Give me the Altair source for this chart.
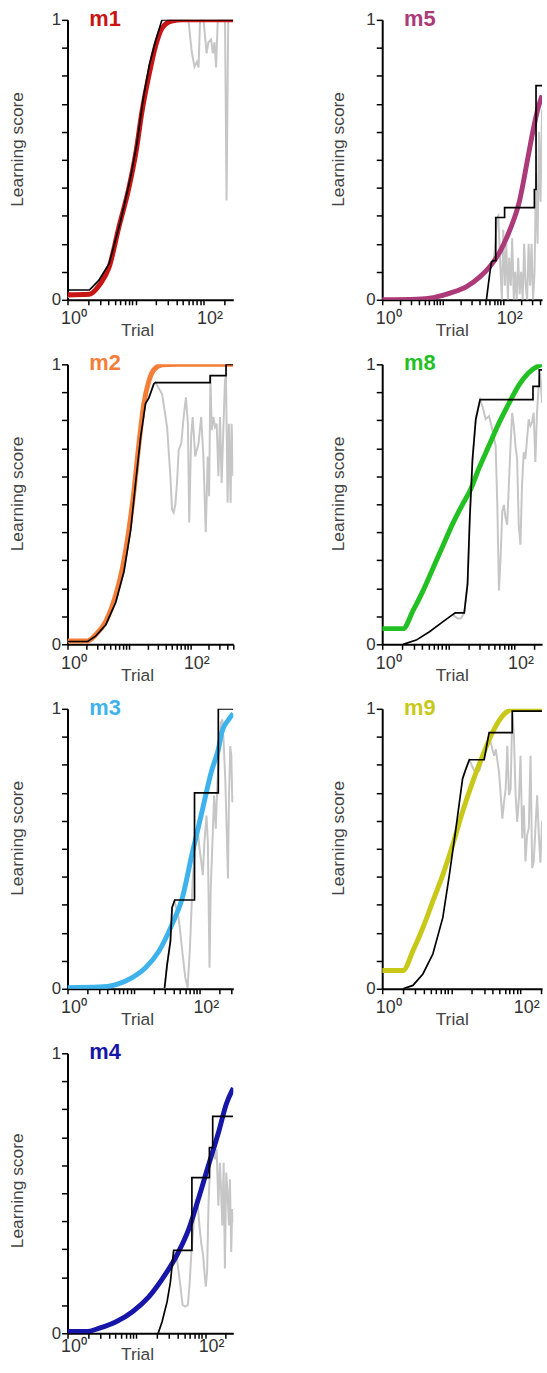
import altair as alt
import pandas as pd

FONT = "Liberation Sans"

# ---------------- data (trial, learning score) ----------------
# m1
m1_fit_t = [1, 2.1, 3.0, 4.1, 5.7, 8.0, 10.2, 12.4, 15.7, 19.9, 24.5, 34, 50, 274]
m1_fit_s = [0.018, 0.02, 0.055, 0.117, 0.26, 0.40, 0.53, 0.67, 0.80, 0.91, 0.97, 0.996, 1.0, 1.0]
m1_blk_t = [1, 2.1, 2.9, 4.1, 6.0, 8.5, 10.5, 13, 16, 20, 24.5, 274]
m1_blk_s = [0.035, 0.035, 0.07, 0.13, 0.28, 0.44, 0.56, 0.72, 0.84, 0.93, 1.0, 1.0]
m1_raw_t = [1, 2.1, 4.1, 8, 12, 16, 20, 25, 30, 60, 67, 73.6, 80, 84.5, 89, 100, 111, 118, 129, 137,
            145, 153, 162, 207, 218, 231, 274]
m1_raw_s = [0.01, 0.02, 0.11, 0.40, 0.66, 0.82, 0.92, 0.98, 1.0, 1.0, 0.887, 0.833, 0.85, 0.83, 1.0,
            1.0, 0.88, 0.92, 0.93, 0.88, 0.92, 0.83, 1.0, 1.0, 0.355, 1.0, 1.0]

# m2
m2_fit_t = [1, 2.13, 2.9, 4.2, 6.1, 7.8, 10.0, 12.1, 14.6, 17.5, 21.1, 25.4, 34.7, 60, 500]
m2_fit_s = [0.012, 0.012, 0.035, 0.082, 0.176, 0.27, 0.41, 0.55, 0.72, 0.86, 0.94, 0.98, 0.998, 1.0, 1.0]
m2_blk_t = [1, 2.13, 2.9, 4.2, 6.1, 8.3, 10.7, 12.9, 15.5, 18.6, 21.1, 25.4, 27, 210, 210, 381, 381, 500]
m2_blk_s = [0.01, 0.01, 0.03, 0.07, 0.15, 0.26, 0.41, 0.58, 0.74, 0.86, 0.88, 0.93, 0.935, 0.935,
            0.96, 0.96, 1.0, 1.0]
m2_raw_t = [1, 2.13, 2.9, 4.2, 6.1, 8.3, 10.7, 12.9, 15.5, 18.6, 21.1, 25.4, 27, 34.7, 41.8, 47.3,
            50.3, 53.5, 57, 60.6, 64.5, 71.2, 77.6, 84.7, 91.2, 95.9, 103, 109, 120, 136, 150, 163,
            178, 192, 202, 212, 223, 237, 252, 268, 286, 304, 323, 344, 366, 380, 404, 424, 452,
            469, 499]
m2_raw_s = [0.01, 0.01, 0.03, 0.07, 0.15, 0.26, 0.41, 0.58, 0.74, 0.86, 0.88, 0.93, 0.935, 0.894,
            0.776, 0.6, 0.482, 0.47, 0.5, 0.576, 0.694, 0.718, 0.81, 0.882, 0.788, 0.435, 0.741,
            0.812, 0.671, 0.718, 0.812, 0.671, 0.4, 0.671, 0.529, 0.959, 0.765, 0.812, 0.776,
            0.788, 0.6, 0.812, 0.576, 0.765, 0.941, 0.959, 0.506, 0.788, 0.506, 0.788, 0.6]

# m3
m3_fit_t = [1, 3.0, 5.4, 9.5, 15.1, 24, 38, 53.7, 76, 107, 151, 190, 214, 269, 320]
m3_fit_s = [0.004, 0.006, 0.015, 0.04, 0.075, 0.134, 0.23, 0.32, 0.48, 0.63, 0.78, 0.855, 0.915,
            0.96, 0.983]
m3_blk_t = [29.2, 32, 35.9, 38, 41.7, 83, 83, 190, 190, 320]
m3_blk_s = [0.0, 0.086, 0.17, 0.29, 0.317, 0.317, 0.70, 0.70, 1.0, 1.0]
m3_raw_t = [29.2, 32, 35.9, 38, 41.7, 47.9, 55, 60.3, 65.3, 70.8, 77.6, 85.1, 92.3, 98.9, 105, 111,
            117, 126, 132, 140, 146, 155, 164, 174, 184, 195, 207, 219, 229, 243, 257, 266, 275,
            288, 299, 309, 320]
m3_raw_s = [0.0, 0.086, 0.17, 0.29, 0.311, 0.252, 0.122, 0.039, 0.004, 0.146, 0.382, 0.512, 0.572,
            0.501, 0.453, 0.406, 0.524, 0.619, 0.524, 0.075, 0.359, 0.524, 0.69, 0.572, 0.737,
            0.832, 0.95, 0.962, 0.879, 0.737, 0.524, 0.394, 0.678, 0.867, 0.832, 0.666, 0.69]

# m4
m4_fit_t = [1, 1.86, 2.9, 5.0, 8.8, 15.2, 26.4, 41, 57.5, 80, 112, 156, 204, 257]
m4_fit_s = [0.006, 0.006, 0.018, 0.04, 0.077, 0.13, 0.21, 0.29, 0.37, 0.48, 0.60, 0.716, 0.82, 0.876]
m4_blk_t = [20.8, 23.7, 28, 31.3, 34.9, 64.3, 64.3, 115.5, 115.5, 129, 129, 256]
m4_blk_s = [0.0, 0.041, 0.112, 0.183, 0.296, 0.296, 0.556, 0.556, 0.663, 0.663, 0.775, 0.775]
m4_raw_t = [34.9, 39, 43.6, 47.1, 51.5, 56.2, 59.4, 62.8, 67.9, 73.3, 78.4, 82.8, 87.5, 93.6, 97.8,
            102.3, 107, 112, 118, 125, 132, 139, 147, 156, 164, 170, 178, 186, 194, 203, 212, 222,
            229.6, 240, 248, 256]
m4_raw_s = [0.29, 0.266, 0.172, 0.101, 0.095, 0.101, 0.172, 0.278, 0.385, 0.479, 0.456, 0.385,
            0.325, 0.278, 0.219, 0.166, 0.219, 0.456, 0.598, 0.645, 0.669, 0.621, 0.657, 0.456,
            0.609, 0.527, 0.385, 0.609, 0.231, 0.574, 0.503, 0.385, 0.55, 0.29, 0.444, 0.396]

# m5
m5_fit_t = [1, 3.7, 7.0, 13.2, 24.7, 41, 59.7, 87, 127, 185, 254, 307, 370, 436]
m5_fit_s = [0.0, 0.002, 0.008, 0.024, 0.047, 0.082, 0.118, 0.17, 0.247, 0.353, 0.506, 0.6, 0.68, 0.73]
m5_blk_t = [52.6, 59.7, 63.8, 69.1, 75, 75, 105, 105, 326, 326, 347, 347, 436]
m5_blk_s = [0.0, 0.094, 0.135, 0.14, 0.14, 0.294, 0.294, 0.329, 0.329, 0.394, 0.394, 0.765, 0.765]
m5_raw_t = [68.6, 73.9, 78.2, 82.8, 89.3, 94.5, 100, 106, 112, 119, 125, 133, 140, 149, 157, 166,
            176, 186, 197, 209, 221, 234, 247, 262, 277, 293, 310, 328, 347, 368, 389, 412, 436]
m5_raw_s = [0.13, 0.2, 0.29, 0.3, 0.12, 0.0, 0.25, 0.05, 0.2, 0.0, 0.15, 0.05, 0.22, 0.0, 0.1, 0.0,
            0.15, 0.02, 0.1, 0.0, 0.2, 0.05, 0.0, 0.2, 0.05, 0.2, 0.0, 0.1, 0.45, 0.2, 0.6, 0.35,
            0.68]

# m8
m8_fit_t = [1, 2.07, 2.92, 4.12, 5.82, 8.22, 11.6, 16.4, 21.9, 29.2, 41.2, 58.2, 82.2, 116, 164,
            232, 261]
m8_fit_s = [0.056, 0.056, 0.12, 0.19, 0.27, 0.35, 0.43, 0.50, 0.555, 0.63, 0.71, 0.79, 0.86, 0.925,
            0.97, 0.995, 1.0]
m8_blk_t = [2.07, 3.27, 5.19, 8.22, 11.6, 12.7, 17.4, 19.5, 21.1, 23.2, 26, 30.2, 190.5, 190.5,
            237, 237, 261]
m8_blk_s = [0.0, 0.015, 0.045, 0.08, 0.106, 0.112, 0.112, 0.215, 0.45, 0.662, 0.804, 0.874, 0.874,
            0.921, 0.921, 0.98, 0.98]
m8_raw_t = [11.6, 13.8, 15.4, 17.4, 19.5, 21.1, 23.2, 26, 30.2, 32.7, 36.7, 41.2, 46.2, 51.9, 55,
            58.2, 61.7, 65.3, 69.2, 73.3, 77.6, 82.2, 87.1, 92.3, 97.7, 103.5, 109.6, 116, 123,
            130, 138, 146, 155, 164, 174, 184, 195, 207, 219, 232, 245, 261]
m8_raw_s = [0.106, 0.092, 0.092, 0.112, 0.215, 0.45, 0.662, 0.804, 0.874, 0.851, 0.804, 0.815,
            0.768, 0.709, 0.498, 0.192, 0.309, 0.474, 0.498, 0.451, 0.427, 0.568, 0.709, 0.827,
            0.78, 0.709, 0.662, 0.427, 0.356, 0.568, 0.686, 0.662, 0.733, 0.804, 0.78, 0.792,
            0.827, 0.651, 0.827, 0.921, 0.968, 0.862]

# m9
m9_fit_t = [1, 2.0, 2.79, 3.89, 5.42, 7.55, 10.5, 14.6, 20.4, 28.4, 39.5, 55.1, 76.7, 107, 207]
m9_fit_s = [0.065, 0.065, 0.136, 0.218, 0.313, 0.407, 0.514, 0.632, 0.738, 0.832, 0.915, 0.974,
            0.998, 1.0, 1.0]
m9_blk_t = [2.0, 2.79, 3.89, 5.42, 7.55, 9.4, 11.7, 14.6, 16.3, 18.3, 30, 35.4, 76.7, 76.7, 207]
m9_blk_s = [0.0, 0.012, 0.053, 0.124, 0.254, 0.407, 0.573, 0.75, 0.785, 0.818, 0.818, 0.915,
            0.915, 0.992, 0.992]
m9_raw_t = [14.6, 16.3, 18.3, 21.5, 25.4, 30, 35.4, 39.5, 41.8, 44.2, 49.3, 52.1, 55.1, 58.2, 61.5,
            65, 68.7, 72.6, 76.7, 81.1, 85.7, 90.5, 95.7, 101, 107, 113, 119, 126, 133, 141, 149,
            157, 166, 176, 186, 196, 207]
m9_raw_s = [0.75, 0.785, 0.818, 0.779, 0.779, 0.832, 0.903, 0.856, 0.832, 0.856, 0.773, 0.691,
            0.608, 0.667, 0.714, 0.868, 0.691, 0.714, 0.986, 0.903, 0.691, 0.596, 0.679, 0.832,
            0.537, 0.655, 0.455, 0.549, 0.573, 0.832, 0.431, 0.455, 0.573, 0.691, 0.549, 0.45, 0.6]

# ---------------- panel settings ----------------
PANELS = [
    dict(name="m1", color="#c81414", xmax=274, width=167, col="L", last=False,
         fit=(m1_fit_t, m1_fit_s), blk=(m1_blk_t, m1_blk_s), raw=(m1_raw_t, m1_raw_s)),
    dict(name="m5", color="#ad3a78", xmax=436, width=161, col="R", last=False,
         fit=(m5_fit_t, m5_fit_s), blk=(m5_blk_t, m5_blk_s), raw=(m5_raw_t, m5_raw_s)),
    dict(name="m2", color="#f47d38", xmax=500, width=167, col="L", last=False,
         fit=(m2_fit_t, m2_fit_s), blk=(m2_blk_t, m2_blk_s), raw=(m2_raw_t, m2_raw_s)),
    dict(name="m8", color="#22c022", xmax=261, width=161, col="R", last=False,
         fit=(m8_fit_t, m8_fit_s), blk=(m8_blk_t, m8_blk_s), raw=(m8_raw_t, m8_raw_s)),
    dict(name="m3", color="#3db2ec", xmax=320, width=167, col="L", last=False,
         fit=(m3_fit_t, m3_fit_s), blk=(m3_blk_t, m3_blk_s), raw=(m3_raw_t, m3_raw_s)),
    dict(name="m9", color="#c8c818", xmax=207, width=161, col="R", last=False,
         fit=(m9_fit_t, m9_fit_s), blk=(m9_blk_t, m9_blk_s), raw=(m9_raw_t, m9_raw_s)),
    dict(name="m4", color="#1616a8", xmax=257, width=167, col="L", last=True,
         fit=(m4_fit_t, m4_fit_s), blk=(m4_blk_t, m4_blk_s), raw=(m4_raw_t, m4_raw_s)),
]

X_TICKS = [1, 2, 3, 4, 5, 6, 7, 8, 9, 10, 20, 30, 40, 50, 60, 70, 80, 90, 100, 200, 300, 400, 500]
Y_TICKS = [0, 0.1, 0.2, 0.3, 0.4, 0.5, 0.6, 0.7, 0.8, 0.9, 1]
H = 282


def frame(ts, ss):
    return pd.DataFrame({"t": ts, "s": ss, "i": list(range(len(ts)))})


def make_panel(p):
    xmax = p["xmax"]
    last = p["last"]
    x_axis = alt.Axis(
        values=[v for v in X_TICKS if v <= xmax],
        labelExpr="datum.value == 1 ? '10⁰' : (datum.value == 100 ? '10²' : '')",
        title="Trial", titleX=70, titleY=26 if last else 36, titleBaseline="alphabetic",
        titleAlign="center", labelBaseline="alphabetic", labelAlign="center",
        labelPadding=13 if last else 19, labelOffset=6, tickSize=5, labelFontSize=18,
        labelOverlap=False, labelFlush=False, labelBound=False, grid=False,
    )
    y_axis = alt.Axis(
        values=Y_TICKS,
        labelExpr="datum.value == 0 ? '0' : (datum.value == 1 ? '1' : '')",
        title="Learning score", titleAngle=270, titleAlign="center",
        titleBaseline="alphabetic", titleX=-45 if p["col"] == "L" else -39,
        titleY=138 if last else 130,
        tickSize=6, labelPadding=1, labelBaseline="middle",
        labelOverlap=False, labelFlush=False, labelBound=False, grid=False,
    )
    x = alt.X("t:Q", scale=alt.Scale(type="log", domain=[1, xmax], nice=False), axis=x_axis)
    y = alt.Y("s:Q", scale=alt.Scale(domain=[0, 1], nice=False), axis=y_axis)
    order = alt.Order("i:Q")

    raw = alt.Chart(frame(*p["raw"])).mark_line(
        color="#c6c6c6", strokeWidth=2, clip=True).encode(x=x, y=y, order=order)
    fit = alt.Chart(frame(*p["fit"])).mark_line(
        color=p["color"], strokeWidth=5, clip=True, interpolate="monotone"
    ).encode(x=x, y=y, order=order)
    blk = alt.Chart(frame(*p["blk"])).mark_line(
        color="black", strokeWidth=1.7, clip=True).encode(x=x, y=y, order=order)
    lab = alt.Chart(pd.DataFrame({"name": [p["name"]]})).mark_text(
        align="left", baseline="alphabetic", font=FONT, fontSize=22, fontWeight="bold",
        color=p["color"]
    ).encode(x=alt.value(22), y=alt.value(6), text="name:N")
    return alt.layer(raw, fit, blk, lab).properties(width=p["width"], height=H)


panels = [make_panel(p) for p in PANELS]

chart = alt.concat(
    *panels, columns=2, spacing={"row": 65, "column": 150}, bounds="flush"
).properties(
    padding={"left": 9, "top": 3, "right": 0, "bottom": 0}
).configure_view(
    stroke=None
).configure_axis(
    domainColor="black", domainWidth=2, tickColor="black", tickWidth=1.5,
    labelFont=FONT, titleFont=FONT, labelFontSize=17, titleFontSize=17.5,
    labelColor="#333333", titleColor="#444444", titleFontWeight="normal",
)

chart.save("out.html", embed_options={"renderer": "svg", "actions": False})
